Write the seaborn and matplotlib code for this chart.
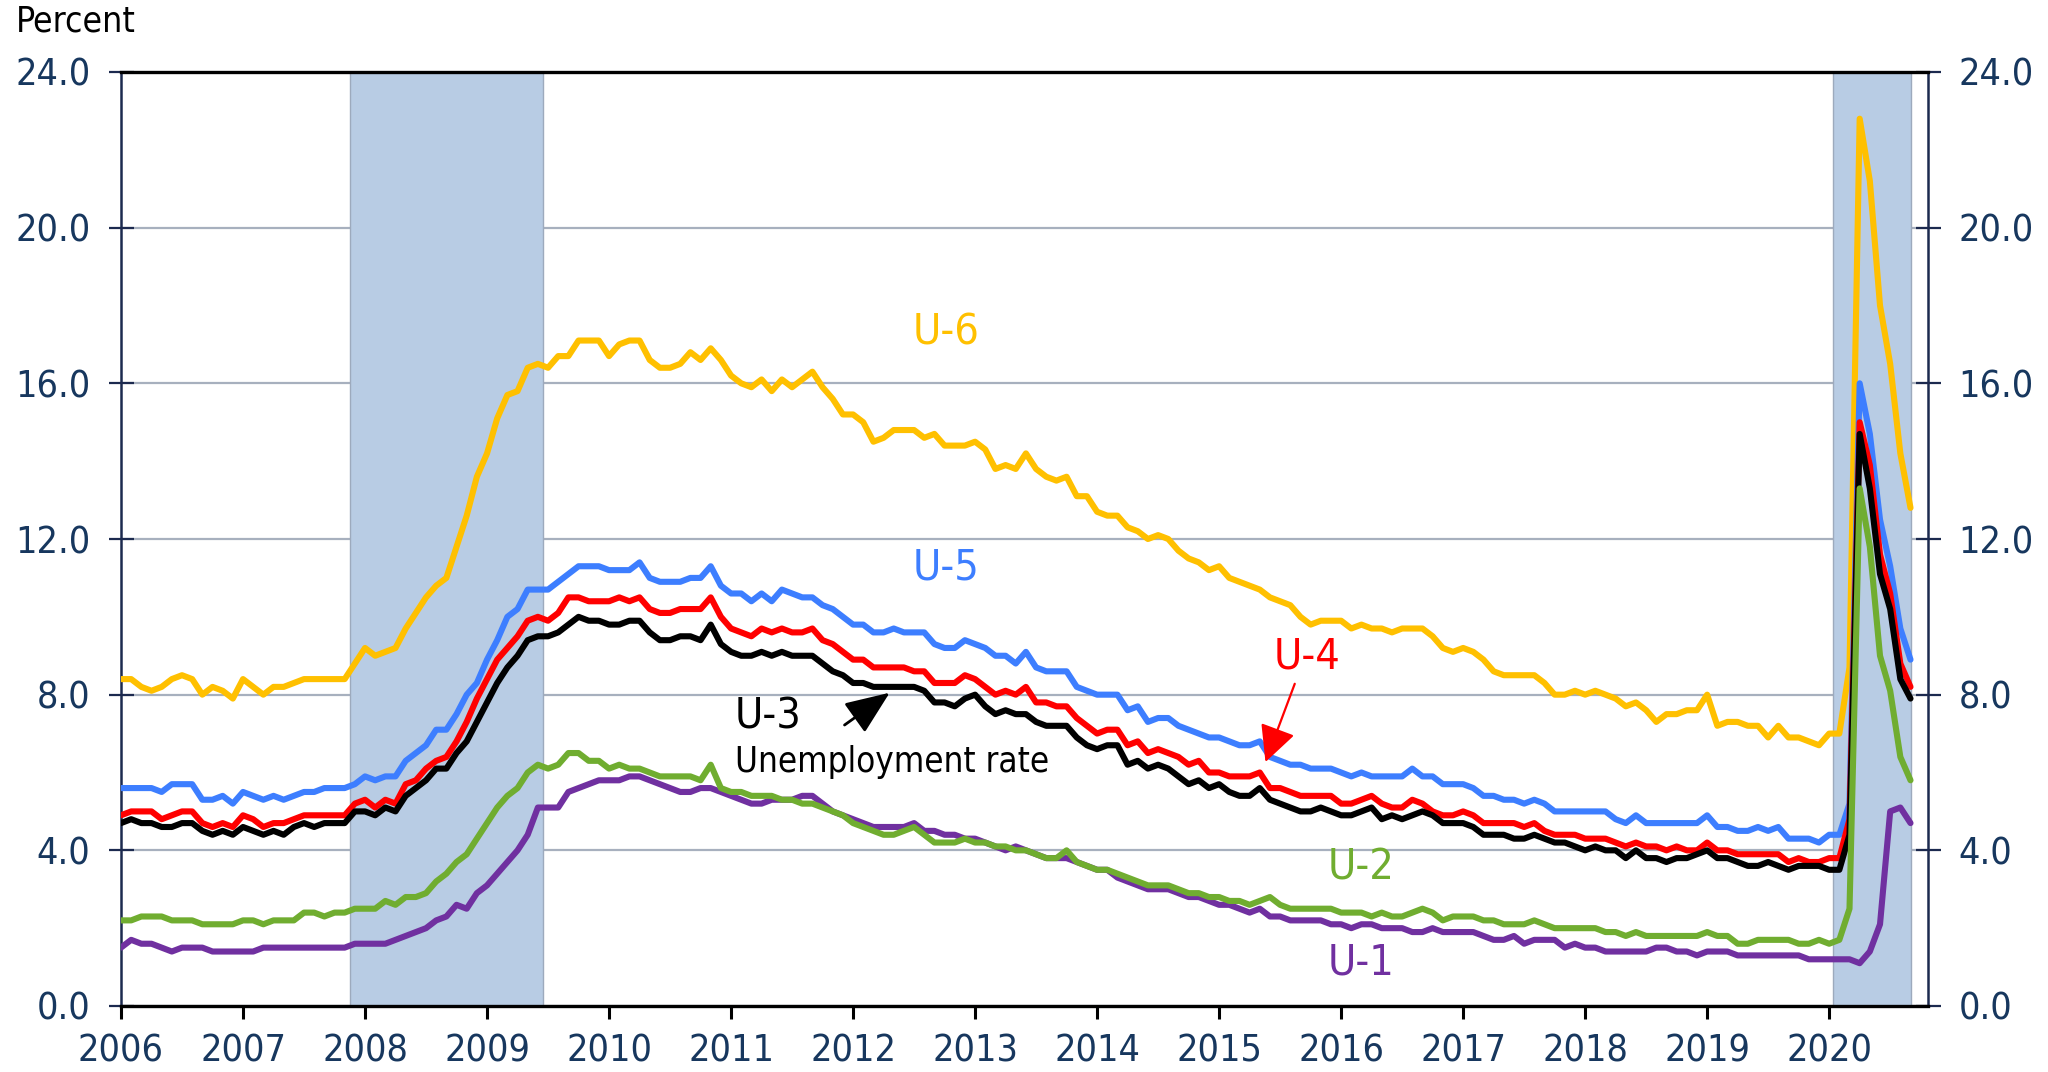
import numpy as np
import pandas as pd
import matplotlib
matplotlib.use("Agg")
import matplotlib.pyplot as plt
import seaborn as sns

# ---------------- data (monthly, Jan 2006 - Sep 2020) ----------------
start_year = 2006
u6 = [8.4, 8.4, 8.2, 8.1, 8.2, 8.4, 8.5, 8.4, 8.0, 8.2, 8.1, 7.9,
      8.4, 8.2, 8.0, 8.2, 8.2, 8.3, 8.4, 8.4, 8.4, 8.4, 8.4, 8.8,
      9.2, 9.0, 9.1, 9.2, 9.7, 10.1, 10.5, 10.8, 11.0, 11.8, 12.6, 13.6,
      14.2, 15.1, 15.7, 15.8, 16.4, 16.5, 16.4, 16.7, 16.7, 17.1, 17.1, 17.1,
      16.7, 17.0, 17.1, 17.1, 16.6, 16.4, 16.4, 16.5, 16.8, 16.6, 16.9, 16.6,
      16.2, 16.0, 15.9, 16.1, 15.8, 16.1, 15.9, 16.1, 16.3, 15.9, 15.6, 15.2,
      15.2, 15.0, 14.5, 14.6, 14.8, 14.8, 14.8, 14.6, 14.7, 14.4, 14.4, 14.4,
      14.5, 14.3, 13.8, 13.9, 13.8, 14.2, 13.8, 13.6, 13.5, 13.6, 13.1, 13.1,
      12.7, 12.6, 12.6, 12.3, 12.2, 12.0, 12.1, 12.0, 11.7, 11.5, 11.4, 11.2,
      11.3, 11.0, 10.9, 10.8, 10.7, 10.5, 10.4, 10.3, 10.0, 9.8, 9.9, 9.9,
      9.9, 9.7, 9.8, 9.7, 9.7, 9.6, 9.7, 9.7, 9.7, 9.5, 9.2, 9.1,
      9.2, 9.1, 8.9, 8.6, 8.5, 8.5, 8.5, 8.5, 8.3, 8.0, 8.0, 8.1,
      8.0, 8.1, 8.0, 7.9, 7.7, 7.8, 7.6, 7.3, 7.5, 7.5, 7.6, 7.6,
      8.0, 7.2, 7.3, 7.3, 7.2, 7.2, 6.9, 7.2, 6.9, 6.9, 6.8, 6.7,
      7.0, 7.0, 8.7, 22.8, 21.2, 18.0, 16.5, 14.2, 12.8]
u5 = [5.6, 5.6, 5.6, 5.6, 5.5, 5.7, 5.7, 5.7, 5.3, 5.3, 5.4, 5.2,
      5.5, 5.4, 5.3, 5.4, 5.3, 5.4, 5.5, 5.5, 5.6, 5.6, 5.6, 5.7,
      5.9, 5.8, 5.9, 5.9, 6.3, 6.5, 6.7, 7.1, 7.1, 7.5, 8.0, 8.3,
      8.9, 9.4, 10.0, 10.2, 10.7, 10.7, 10.7, 10.9, 11.1, 11.3, 11.3, 11.3,
      11.2, 11.2, 11.2, 11.4, 11.0, 10.9, 10.9, 10.9, 11.0, 11.0, 11.3, 10.8,
      10.6, 10.6, 10.4, 10.6, 10.4, 10.7, 10.6, 10.5, 10.5, 10.3, 10.2, 10.0,
      9.8, 9.8, 9.6, 9.6, 9.7, 9.6, 9.6, 9.6, 9.3, 9.2, 9.2, 9.4,
      9.3, 9.2, 9.0, 9.0, 8.8, 9.1, 8.7, 8.6, 8.6, 8.6, 8.2, 8.1,
      8.0, 8.0, 8.0, 7.6, 7.7, 7.3, 7.4, 7.4, 7.2, 7.1, 7.0, 6.9,
      6.9, 6.8, 6.7, 6.7, 6.8, 6.4, 6.3, 6.2, 6.2, 6.1, 6.1, 6.1,
      6.0, 5.9, 6.0, 5.9, 5.9, 5.9, 5.9, 6.1, 5.9, 5.9, 5.7, 5.7,
      5.7, 5.6, 5.4, 5.4, 5.3, 5.3, 5.2, 5.3, 5.2, 5.0, 5.0, 5.0,
      5.0, 5.0, 5.0, 4.8, 4.7, 4.9, 4.7, 4.7, 4.7, 4.7, 4.7, 4.7,
      4.9, 4.6, 4.6, 4.5, 4.5, 4.6, 4.5, 4.6, 4.3, 4.3, 4.3, 4.2,
      4.4, 4.4, 5.2, 16.0, 14.7, 12.5, 11.3, 9.7, 8.9]
u4 = [4.9, 5.0, 5.0, 5.0, 4.8, 4.9, 5.0, 5.0, 4.7, 4.6, 4.7, 4.6,
      4.9, 4.8, 4.6, 4.7, 4.7, 4.8, 4.9, 4.9, 4.9, 4.9, 4.9, 5.2,
      5.3, 5.1, 5.3, 5.2, 5.7, 5.8, 6.1, 6.3, 6.4, 6.8, 7.3, 7.9,
      8.4, 8.9, 9.2, 9.5, 9.9, 10.0, 9.9, 10.1, 10.5, 10.5, 10.4, 10.4,
      10.4, 10.5, 10.4, 10.5, 10.2, 10.1, 10.1, 10.2, 10.2, 10.2, 10.5, 10.0,
      9.7, 9.6, 9.5, 9.7, 9.6, 9.7, 9.6, 9.6, 9.7, 9.4, 9.3, 9.1,
      8.9, 8.9, 8.7, 8.7, 8.7, 8.7, 8.6, 8.6, 8.3, 8.3, 8.3, 8.5,
      8.4, 8.2, 8.0, 8.1, 8.0, 8.2, 7.8, 7.8, 7.7, 7.7, 7.4, 7.2,
      7.0, 7.1, 7.1, 6.7, 6.8, 6.5, 6.6, 6.5, 6.4, 6.2, 6.3, 6.0,
      6.0, 5.9, 5.9, 5.9, 6.0, 5.6, 5.6, 5.5, 5.4, 5.4, 5.4, 5.4,
      5.2, 5.2, 5.3, 5.4, 5.2, 5.1, 5.1, 5.3, 5.2, 5.0, 4.9, 4.9,
      5.0, 4.9, 4.7, 4.7, 4.7, 4.7, 4.6, 4.7, 4.5, 4.4, 4.4, 4.4,
      4.3, 4.3, 4.3, 4.2, 4.1, 4.2, 4.1, 4.1, 4.0, 4.1, 4.0, 4.0,
      4.2, 4.0, 4.0, 3.9, 3.9, 3.9, 3.9, 3.9, 3.7, 3.8, 3.7, 3.7,
      3.8, 3.8, 4.8, 15.0, 13.9, 11.6, 10.6, 8.8, 8.2]
u3 = [4.7, 4.8, 4.7, 4.7, 4.6, 4.6, 4.7, 4.7, 4.5, 4.4, 4.5, 4.4,
      4.6, 4.5, 4.4, 4.5, 4.4, 4.6, 4.7, 4.6, 4.7, 4.7, 4.7, 5.0,
      5.0, 4.9, 5.1, 5.0, 5.4, 5.6, 5.8, 6.1, 6.1, 6.5, 6.8, 7.3,
      7.8, 8.3, 8.7, 9.0, 9.4, 9.5, 9.5, 9.6, 9.8, 10.0, 9.9, 9.9,
      9.8, 9.8, 9.9, 9.9, 9.6, 9.4, 9.4, 9.5, 9.5, 9.4, 9.8, 9.3,
      9.1, 9.0, 9.0, 9.1, 9.0, 9.1, 9.0, 9.0, 9.0, 8.8, 8.6, 8.5,
      8.3, 8.3, 8.2, 8.2, 8.2, 8.2, 8.2, 8.1, 7.8, 7.8, 7.7, 7.9,
      8.0, 7.7, 7.5, 7.6, 7.5, 7.5, 7.3, 7.2, 7.2, 7.2, 6.9, 6.7,
      6.6, 6.7, 6.7, 6.2, 6.3, 6.1, 6.2, 6.1, 5.9, 5.7, 5.8, 5.6,
      5.7, 5.5, 5.4, 5.4, 5.6, 5.3, 5.2, 5.1, 5.0, 5.0, 5.1, 5.0,
      4.9, 4.9, 5.0, 5.1, 4.8, 4.9, 4.8, 4.9, 5.0, 4.9, 4.7, 4.7,
      4.7, 4.6, 4.4, 4.4, 4.4, 4.3, 4.3, 4.4, 4.3, 4.2, 4.2, 4.1,
      4.0, 4.1, 4.0, 4.0, 3.8, 4.0, 3.8, 3.8, 3.7, 3.8, 3.8, 3.9,
      4.0, 3.8, 3.8, 3.7, 3.6, 3.6, 3.7, 3.6, 3.5, 3.6, 3.6, 3.6,
      3.5, 3.5, 4.4, 14.7, 13.3, 11.1, 10.2, 8.4, 7.9]
u2 = [2.2, 2.2, 2.3, 2.3, 2.3, 2.2, 2.2, 2.2, 2.1, 2.1, 2.1, 2.1,
      2.2, 2.2, 2.1, 2.2, 2.2, 2.2, 2.4, 2.4, 2.3, 2.4, 2.4, 2.5,
      2.5, 2.5, 2.7, 2.6, 2.8, 2.8, 2.9, 3.2, 3.4, 3.7, 3.9, 4.3,
      4.7, 5.1, 5.4, 5.6, 6.0, 6.2, 6.1, 6.2, 6.5, 6.5, 6.3, 6.3,
      6.1, 6.2, 6.1, 6.1, 6.0, 5.9, 5.9, 5.9, 5.9, 5.8, 6.2, 5.6,
      5.5, 5.5, 5.4, 5.4, 5.4, 5.3, 5.3, 5.2, 5.2, 5.1, 5.0, 4.9,
      4.7, 4.6, 4.5, 4.4, 4.4, 4.5, 4.6, 4.4, 4.2, 4.2, 4.2, 4.3,
      4.2, 4.2, 4.1, 4.1, 4.0, 4.0, 3.9, 3.8, 3.8, 4.0, 3.7, 3.6,
      3.5, 3.5, 3.4, 3.3, 3.2, 3.1, 3.1, 3.1, 3.0, 2.9, 2.9, 2.8,
      2.8, 2.7, 2.7, 2.6, 2.7, 2.8, 2.6, 2.5, 2.5, 2.5, 2.5, 2.5,
      2.4, 2.4, 2.4, 2.3, 2.4, 2.3, 2.3, 2.4, 2.5, 2.4, 2.2, 2.3,
      2.3, 2.3, 2.2, 2.2, 2.1, 2.1, 2.1, 2.2, 2.1, 2.0, 2.0, 2.0,
      2.0, 2.0, 1.9, 1.9, 1.8, 1.9, 1.8, 1.8, 1.8, 1.8, 1.8, 1.8,
      1.9, 1.8, 1.8, 1.6, 1.6, 1.7, 1.7, 1.7, 1.7, 1.6, 1.6, 1.7,
      1.6, 1.7, 2.5, 13.3, 11.8, 9.0, 8.1, 6.4, 5.8]
u1 = [1.5, 1.7, 1.6, 1.6, 1.5, 1.4, 1.5, 1.5, 1.5, 1.4, 1.4, 1.4,
      1.4, 1.4, 1.5, 1.5, 1.5, 1.5, 1.5, 1.5, 1.5, 1.5, 1.5, 1.6,
      1.6, 1.6, 1.6, 1.7, 1.8, 1.9, 2.0, 2.2, 2.3, 2.6, 2.5, 2.9,
      3.1, 3.4, 3.7, 4.0, 4.4, 5.1, 5.1, 5.1, 5.5, 5.6, 5.7, 5.8,
      5.8, 5.8, 5.9, 5.9, 5.8, 5.7, 5.6, 5.5, 5.5, 5.6, 5.6, 5.5,
      5.4, 5.3, 5.2, 5.2, 5.3, 5.3, 5.3, 5.4, 5.4, 5.2, 5.0, 4.9,
      4.8, 4.7, 4.6, 4.6, 4.6, 4.6, 4.7, 4.5, 4.5, 4.4, 4.4, 4.3,
      4.3, 4.2, 4.1, 4.0, 4.1, 4.0, 3.9, 3.8, 3.8, 3.8, 3.7, 3.6,
      3.5, 3.5, 3.3, 3.2, 3.1, 3.0, 3.0, 3.0, 2.9, 2.8, 2.8, 2.7,
      2.6, 2.6, 2.5, 2.4, 2.5, 2.3, 2.3, 2.2, 2.2, 2.2, 2.2, 2.1,
      2.1, 2.0, 2.1, 2.1, 2.0, 2.0, 2.0, 1.9, 1.9, 2.0, 1.9, 1.9,
      1.9, 1.9, 1.8, 1.7, 1.7, 1.8, 1.6, 1.7, 1.7, 1.7, 1.5, 1.6,
      1.5, 1.5, 1.4, 1.4, 1.4, 1.4, 1.4, 1.5, 1.5, 1.4, 1.4, 1.3,
      1.4, 1.4, 1.4, 1.3, 1.3, 1.3, 1.3, 1.3, 1.3, 1.3, 1.2, 1.2,
      1.2, 1.2, 1.2, 1.1, 1.4, 2.1, 5.0, 5.1, 4.7]

series_names = ["U-6", "U-5", "U-4", "U-3", "U-1", "U-2"]   # drawing order
series_colors = {"U-6": "#FFC000", "U-5": "#3D7EFF", "U-4": "#FF0000",
                 "U-3": "#000000", "U-2": "#70AD30", "U-1": "#7030A0"}
recession_start = [2007.88, 2020.03]
recession_end = [2009.46, 2020.67]
year_ticks = list(range(2006, 2021))
y_ticks = [0, 4, 8, 12, 16, 20, 24]

values = {"U-6": u6, "U-5": u5, "U-4": u4, "U-3": u3, "U-2": u2, "U-1": u1}
n = len(u3)
for k, v in values.items():
    assert len(v) == n, (k, len(v))
t = start_year + np.arange(n) / 12.0
df = pd.concat([pd.DataFrame({"t": t, "value": values[k], "series": k})
                for k in series_names], ignore_index=True)

# ---------------- figure ----------------
sns.set_theme(style="white")
plt.rcParams["font.family"] = ["DejaVu Sans"]
plt.rcParams["font.stretch"] = "condensed"

navy = "#17375E"
spine_navy = "#1C2A4F"

fig = plt.figure(figsize=(20.48, 10.72), dpi=100)
ax = fig.add_axes([121 / 2048, 1 - 1006 / 1072, (1928 - 121) / 2048, (1006 - 72) / 1072])

ax.set_axisbelow(True)
for s, e in zip(recession_start, recession_end):
    ax.axvspan(s, e, facecolor="#B8CCE4", edgecolor="#9DAABD", linewidth=1.0, zorder=1)

sns.lineplot(data=df, x="t", y="value", hue="series", hue_order=series_names,
             palette=series_colors, linewidth=4.4, legend=False, ax=ax,
             sort=False, estimator=None, zorder=3)

ax.set_xlim(2006.0, 2020.81)
ax.set_ylim(0, 24)
ax.set_xticks(year_ticks)
ax.set_xticklabels([str(y) for y in year_ticks])
ax.set_yticks(y_ticks)
ax.set_yticklabels([f"{v:.1f}" for v in y_ticks])
ax.set_xlabel("")
ax.set_ylabel("")

ax.yaxis.grid(True, color="#A7B0BE", linewidth=1.6)
ax.xaxis.grid(False)

for side in ["top", "bottom"]:
    ax.spines[side].set_color("black")
    ax.spines[side].set_linewidth(2.4)
for side in ["left", "right"]:
    ax.spines[side].set_color(spine_navy)
    ax.spines[side].set_linewidth(1.8)
    ax.spines[side].set_visible(True)

ax.tick_params(axis="y", which="major", left=True, right=True, labelleft=True,
               labelright=True, direction="inout", length=18, width=1.6,
               color=spine_navy, labelcolor=navy, labelsize=27, pad=13)
ax.tick_params(axis="x", which="major", bottom=True, top=False, direction="out",
               length=9, width=2.2, color="black", labelcolor=navy,
               labelsize=27, pad=11)

# ---------------- annotations ----------------
lab = dict(fontsize=31, va="center")
ax.text(2012.76, 17.3, "U-6", color=series_colors["U-6"], ha="center", **lab)
ax.text(2012.76, 11.26, "U-5", color=series_colors["U-5"], ha="center", **lab)
ax.text(2015.72, 8.97, "U-4", color=series_colors["U-4"], ha="center", **lab)
ax.text(2011.03, 7.45, "U-3", color="black", ha="left", **lab)
ax.text(2011.03, 6.27, "Unemployment rate", color="black", ha="left",
        fontsize=25, va="center")
ax.text(2016.16, 3.57, "U-2", color=series_colors["U-2"], ha="center", **lab)
ax.text(2016.16, 1.13, "U-1", color=series_colors["U-1"], ha="center", **lab)

ax.annotate("", xy=(2012.30, 8.05), xytext=(2011.93, 7.22),
            arrowprops=dict(arrowstyle="-|>,head_length=1.1,head_width=0.45",
                            color="black", lw=2.0, mutation_scale=25,
                            shrinkA=0, shrinkB=0), zorder=5)
ax.annotate("", xy=(2015.38, 6.27), xytext=(2015.62, 8.28),
            arrowprops=dict(arrowstyle="-|>,head_length=0.9,head_width=0.45",
                            color="#FF0000", lw=1.6, mutation_scale=25,
                            shrinkA=0, shrinkB=0), zorder=5)

fig.text(16 / 2048, 1 - 5 / 1072, "Percent", fontsize=25.5, color="black",
         ha="left", va="top")

fig.savefig("out.png", dpi=100)
